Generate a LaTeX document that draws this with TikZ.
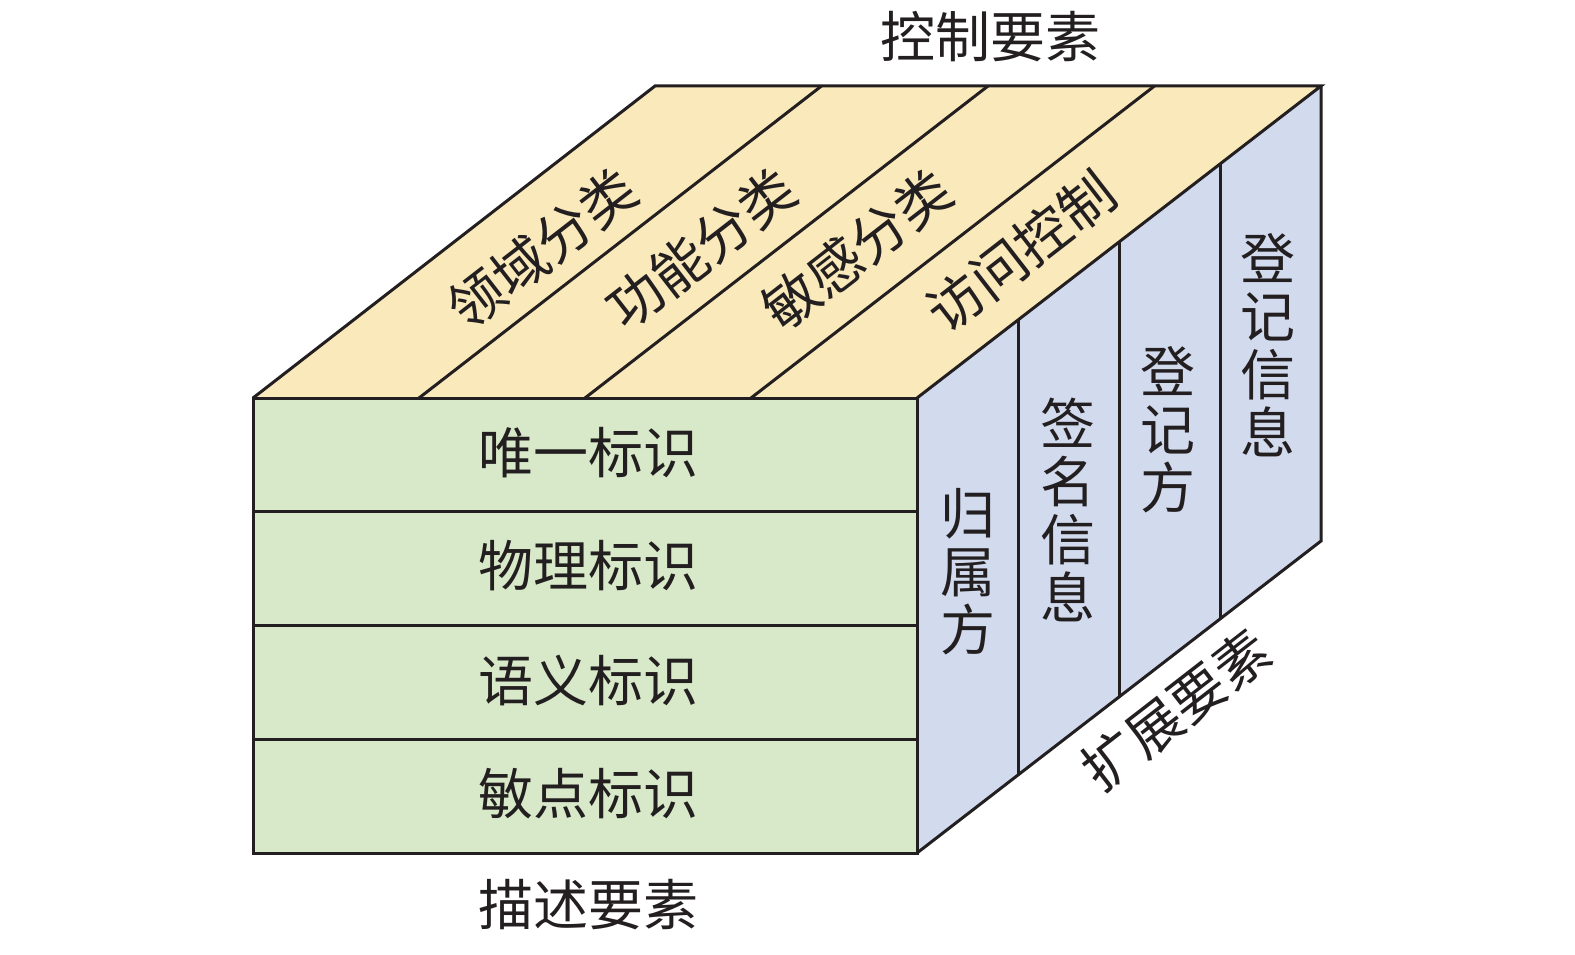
\documentclass[tikz,border=0pt]{standalone}
\usepackage{fontspec}
\newfontfamily\cjk{Noto Sans CJK SC}
\usetikzlibrary{calc}
\definecolor{topc}{HTML}{F9E9BB}
\definecolor{frontc}{HTML}{D8E9C9}
\definecolor{rightc}{HTML}{D2DAEE}
\definecolor{ink}{HTML}{231F20}
\begin{document}
\begin{tikzpicture}[x=1pt,y=-1pt,
  edge/.style={line width=3pt, line join=miter, draw=ink},
  lab/.style={font=\cjk\fontsize{55}{58}\selectfont, inner sep=0pt, text=ink, align=center},
  toplab/.style={lab, rotate=37.8}]
\useasboundingbox (0,0) rectangle (1575,955);
\coordinate (A) at (253,398);
\coordinate (B) at (917,398);
\coordinate (C) at (917,853);
\coordinate (D) at (253,853);
\coordinate (E) at (655,86);
\coordinate (F) at (1321,86);
\coordinate (G) at (1321,541);
% faces
\fill[topc] (A) -- (B) -- (F) -- (E) -- cycle;
\fill[frontc] (A) -- (B) -- (C) -- (D) -- cycle;
\fill[rightc] (B) -- (F) -- (G) -- (C) -- cycle;
% dividers
\foreach \i in {1,2,3}{
  \draw[edge] ($(A)!\i/4!(B)$) -- ($(E)!\i/4!(F)$);
  \draw[edge] ($(A)!\i/4!(D)$) -- ($(B)!\i/4!(C)$);
  \draw[edge] ($(B)!\i/4!(F)$) -- ($(C)!\i/4!(G)$);
}
% outlines
\draw[edge] (A) -- (B) -- (C) -- (D) -- cycle;
\draw[edge] (A) -- (E) -- (F) -- (B);
\draw[edge] (F) -- (G) -- (C);
% titles
\node[lab] (ctrl) at (990,37) {控制要素};
\node[lab] (desc) at (588,905) {描述要素};
\node[toplab] (ext) at (1176,710) {扩展要素};
% front labels
\node[lab] (f1) at (588,453) {唯一标识};
\node[lab] (f2) at (588,566) {物理标识};
\node[lab] (f3) at (588,680) {语义标识};
\node[lab] (f4) at (588,794) {敏点标识};
% top labels
\node[toplab] (t1) at (542,249) {领域分类};
\node[toplab] (t2) at (701,249) {功能分类};
\node[toplab] (t3) at (857,250) {敏感分类};
\node[toplab] (t4) at (1021,252) {访问控制};
% right labels
\node[lab] (r1) at (968,572) {归\\属\\方};
\node[lab] (r2) at (1068,510) {签\\名\\信\\息};
\node[lab] (r3) at (1168,430) {登\\记\\方};
\node[lab] (r4) at (1268,345) {登\\记\\信\\息};
\end{tikzpicture}
\end{document}
